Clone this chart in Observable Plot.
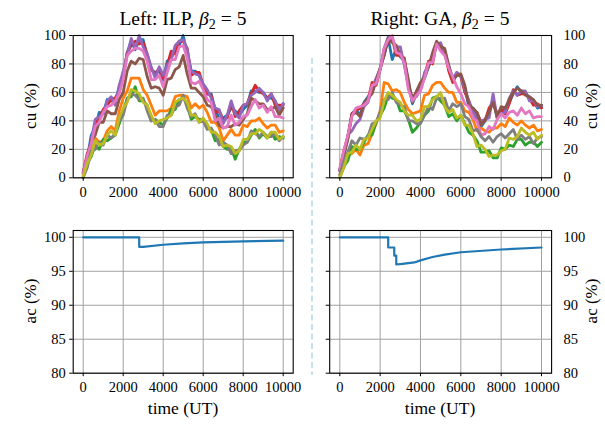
<!DOCTYPE html>
<html><head><meta charset="utf-8">
<script src="https://cdn.jsdelivr.net/npm/d3@7"></script>
<script src="https://cdn.jsdelivr.net/npm/@observablehq/plot@0.6"></script>
<style>
body{margin:0;background:#fff;}
#c{position:relative;width:605px;height:428px;background:#fff;overflow:hidden;}
.p{position:absolute;}
#ov{position:absolute;left:0;top:0;}
</style></head><body><div id="c"></div>
<script>
// ---------- data ----------
const times = [0,200,400,600,800,1000,1200,1400,1600,1800,2000,2200,2400,2600,2800,3000,3200,3400,3600,3800,4000,4200,4400,4600,4800,5000,5200,5400,5600,5800,6000,6200,6400,6600,6800,7000,7200,7400,7600,7800,8000,8200,8400,8600,8800,9000,9200,9400,9600,9800,10000];
const seriesNames = ["C0","C1","C2","C3","C4","C5","C6","C7","C8"];
const seriesColors = ["#1f77b4","#ff7f0e","#2ca02c","#d62728","#9467bd","#8c564b","#e377c2","#7f7f7f","#bcbd22"];

// Left (ILP) cu (%)
const cuL_C0 = [4,13,30,35,46,45,55,54,53,64,71,88,96,90,97,97,85,76,74,75,69,82,84,90,93,100,87,75,75,72,64,59,59,48,42,42,44,49,47,44,48,51,61,61,60,60,56,56,54,47,52];
const cuL_C1 = [2,10,17,28,25,26,33,36,33,47,56,61,70,70,70,62,58,51,44,47,47,47,49,57,58,58,57,49,52,49,51,46,39,39,35,26,30,34,30,30,37,36,40,40,42,38,35,37,37,32,33];
const cuL_C2 = [1,10,15,23,20,27,26,28,30,38,46,56,57,64,54,54,51,40,41,39,37,42,48,48,55,56,52,41,43,41,41,35,34,26,27,22,20,21,13,20,25,25,30,34,28,31,28,32,27,29,28];
const cuL_C3 = [4,17,25,38,42,48,51,55,56,61,72,88,93,96,94,95,87,76,73,77,70,79,89,87,96,96,91,72,74,74,65,59,58,46,47,41,42,53,43,47,51,52,59,65,61,59,56,59,51,51,51];
const cuL_C4 = [3,15,26,41,43,45,54,57,51,65,75,86,98,91,100,92,87,78,70,78,72,79,83,93,96,97,90,75,73,72,66,62,56,49,48,38,44,54,45,42,51,52,58,60,63,60,54,59,54,47,52];
const cuL_C5 = [3,11,26,30,39,39,47,45,45,55,60,75,82,80,84,83,71,63,64,63,58,69,70,76,78,86,73,63,63,60,57,51,50,44,37,35,36,36,38,37,41,45,56,54,52,52,48,48,50,44,49];
const cuL_C6 = [3,15,24,36,39,46,50,51,54,59,69,86,89,91,91,89,82,69,69,72,64,74,83,83,92,93,84,67,66,68,62,55,53,40,42,35,36,44,37,39,43,44,50,55,49,51,46,50,43,43,42];
const cuL_C7 = [0,7,19,20,25,23,30,28,31,40,44,55,59,58,55,56,47,40,41,36,36,44,44,50,51,58,49,43,45,39,40,34,35,30,23,25,23,17,19,19,23,25,33,31,29,32,29,29,31,26,29];
const cuL_C8 = [1,10,16,26,23,24,30,33,30,42,49,53,62,61,59,53,51,44,38,40,41,42,44,53,55,56,53,44,44,39,42,38,32,32,29,22,23,22,17,19,27,27,31,31,34,32,28,32,32,27,29];

// Right (GA) cu (%)
const cuR_C0 = [5,17,28,45,48,44,53,57,60,69,77,86,98,83,91,85,82,67,52,59,65,70,78,86,94,90,89,78,68,72,72,63,50,49,45,36,40,47,55,42,48,47,53,59,64,60,60,56,54,49,50];
const cuR_C1 = [2,7,16,17,20,16,23,24,31,38,47,67,66,61,62,60,53,48,45,46,47,58,59,65,67,67,63,60,60,53,53,47,46,41,33,35,33,32,35,35,38,36,42,39,37,40,37,35,37,33,34];
const cuR_C2 = [0,8,12,22,20,20,25,30,30,39,44,49,58,56,55,47,47,41,32,35,39,44,47,56,57,54,51,43,45,40,44,38,32,30,26,18,18,19,14,14,21,20,23,22,27,27,23,25,25,22,25];
const cuR_C3 = [6,19,29,45,47,49,52,55,67,65,76,90,95,98,86,86,84,65,56,60,62,72,82,80,95,90,88,75,67,74,71,60,54,45,46,39,40,49,53,45,48,45,52,62,58,59,59,56,51,52,49];
const cuR_C4 = [5,14,30,33,38,41,50,53,63,70,76,91,99,97,92,92,79,64,56,57,63,74,79,85,93,95,87,79,70,74,72,62,54,47,40,40,41,42,59,42,45,46,56,61,58,61,61,54,54,50,51];
const cuR_C5 = [5,16,27,44,46,43,52,56,59,68,77,86,98,95,93,86,83,69,53,61,67,71,78,88,96,92,91,79,69,72,73,65,51,49,46,37,41,46,53,43,50,49,55,60,63,61,58,57,55,51,51];
const cuR_C6 = [6,19,30,43,49,50,51,54,65,66,76,91,97,100,88,87,81,62,54,58,61,70,81,81,94,89,86,77,71,64,59,52,50,42,40,30,31,36,34,41,45,42,46,47,44,49,45,47,42,43,43];
const cuR_C7 = [2,12,18,26,23,28,27,29,38,39,46,55,55,60,53,51,50,40,40,38,38,44,50,48,56,56,56,47,52,50,52,43,41,33,34,29,26,29,25,29,31,28,31,34,27,30,27,29,24,28,29];
const cuR_C8 = [0,7,17,18,23,20,27,28,34,40,42,54,60,58,55,53,47,44,44,40,41,50,50,55,57,60,50,46,48,42,44,37,37,31,22,23,20,15,16,16,19,20,28,27,29,35,32,30,32,27,30];

// ac (%)
const acL_t = [0,2800,2800,3000,4000,5000,6000,8000,10000];
const acL_v = [100,100,98.6,98.6,98.9,99.1,99.25,99.4,99.5];
const acR_t = [0,2400,2400,2700,2700,2800,2800,3100,3700,4000,4600,5200,6000,8000,10000];
const acR_v = [100,100,98.5,98.5,97.3,97.3,96.0,96.1,96.3,96.6,97.1,97.45,97.8,98.2,98.5];

const xTicks = [0,2000,4000,6000,8000,10000];
const cuTicks = [0,20,40,60,80,100];
const acTicks = [80,85,90,95,100];

// ---------- build tables ----------
const cuLeft = [cuL_C0,cuL_C1,cuL_C2,cuL_C3,cuL_C4,cuL_C5,cuL_C6,cuL_C7,cuL_C8];
const cuRight = [cuR_C0,cuR_C1,cuR_C2,cuR_C3,cuR_C4,cuR_C5,cuR_C6,cuR_C7,cuR_C8];
function toRows(arrs){
  const rows=[];
  arrs.forEach((a,i)=>a.forEach((v,j)=>rows.push({s:seriesNames[i],t:times[j],v})));
  return rows;
}
const rowsL = toRows(cuLeft), rowsR = toRows(cuRight);
const acRowsL = acL_t.map((t,i)=>({t,v:acL_v[i]}));
const acRowsR = acR_t.map((t,i)=>({t,v:acR_v[i]}));

const FONT = "'Liberation Serif', 'DejaVu Serif', serif";
const gridStroke = "#a0a0a0";

function panel({left, top, ml, mr, mt, mb, ydom, yticks, right, dataMarks}) {
  const W = 300, H = 190;
  const marks = [
    Plot.gridX(xTicks, {stroke: gridStroke, strokeOpacity: 1, strokeWidth: 1}),
    Plot.gridY(yticks, {stroke: gridStroke, strokeOpacity: 1, strokeWidth: 1}),
    ...dataMarks,
    Plot.frame({stroke: "black", strokeWidth: 1.1}),
    Plot.axisX({ticks: xTicks, tickFormat: d3.format("d"), tickSize: 3.5, tickPadding: 5, label: null, fontSize: 14.5}),
  ];
  if (!right) {
    marks.push(Plot.axisY({ticks: yticks, tickSize: 3.5, tickPadding: 4, label: null, fontSize: 14.5}));
  } else {
    marks.push(Plot.axisY({anchor: "left", ticks: yticks, tickSize: 3.5, tickFormat: () => "", label: null}));
    marks.push(Plot.axisY({anchor: "right", ticks: yticks, tickSize: 0, tickPadding: 12, label: null, fontSize: 14.5}));
  }
  const p = Plot.plot({
    width: W, height: H,
    marginLeft: ml, marginRight: mr, marginTop: mt, marginBottom: mb,
    x: {domain: [-500, 10500]},
    y: {domain: ydom},
    color: {type: "ordinal", domain: seriesNames, range: seriesColors},
    style: {fontFamily: FONT, fontSize: "14.5px", color: "black", background: "transparent", overflow: "visible"},
    marks
  });
  p.classList.add("p");
  p.style.left = left + "px";
  p.style.top = top + "px";
  return p;
}

const cuLine = rows => Plot.line(rows, {x: "t", y: "v", z: "s", stroke: "s", strokeWidth: 2.8, strokeLinejoin: "round"});
const acLine = rows => Plot.line(rows, {x: "t", y: "v", stroke: "#1f77b4", strokeWidth: 2.2});

const c = document.getElementById("c");
c.appendChild(panel({left: 0, top: 20, ml: 72.7, mr: 7.3, mt: 15, mb: 32.7, ydom: [0,100], yticks: cuTicks, right: false, dataMarks: [cuLine(rowsL)]}));
c.appendChild(panel({left: 305, top: 20, ml: 24.2, mr: 53.9, mt: 15, mb: 32.7, ydom: [0,100], yticks: cuTicks, right: true, dataMarks: [cuLine(rowsR)]}));
c.appendChild(panel({left: 0, top: 215, ml: 72.7, mr: 7.3, mt: 15, mb: 32.3, ydom: [80,101], yticks: acTicks, right: false, dataMarks: [acLine(acRowsL)]}));
c.appendChild(panel({left: 305, top: 215, ml: 24.2, mr: 53.9, mt: 15, mb: 32.3, ydom: [80,101], yticks: acTicks, right: true, dataMarks: [acLine(acRowsR)]}));

// ---------- overlay texts ----------
const NS = "http://www.w3.org/2000/svg";
const ov = document.createElementNS(NS, "svg");
ov.setAttribute("id","ov"); ov.setAttribute("width",605); ov.setAttribute("height",428);
ov.style.fontFamily = FONT;
const title = (x, txt) => `<text x="${x}" y="25" text-anchor="middle" font-size="19.5">${txt}<tspan font-style="italic">β</tspan><tspan font-size="14" dy="4">2</tspan><tspan dy="-4" dx="5">=</tspan><tspan dx="5">5</tspan></text>`;
ov.innerHTML = `
<line x1="312" y1="58" x2="312" y2="375" stroke="#add8e6" stroke-width="1.5" stroke-dasharray="6,3.5"/>
${title(183, "Left: ILP, ")}
${title(440, "Right: GA, ")}
<text transform="translate(30,106) rotate(-90)" text-anchor="middle" dominant-baseline="central" font-size="17">cu (%)</text>
<text transform="translate(30,301) rotate(-90)" text-anchor="middle" dominant-baseline="central" font-size="17">ac (%)</text>
<text transform="translate(591,106) rotate(-90)" text-anchor="middle" dominant-baseline="central" font-size="17">cu (%)</text>
<text transform="translate(591,301) rotate(-90)" text-anchor="middle" dominant-baseline="central" font-size="17">ac (%)</text>
<text x="183" y="414" text-anchor="middle" font-size="17.5">time (UT)</text>
<text x="440" y="414" text-anchor="middle" font-size="17.5">time (UT)</text>
`;
c.appendChild(ov);
</script></body></html>
